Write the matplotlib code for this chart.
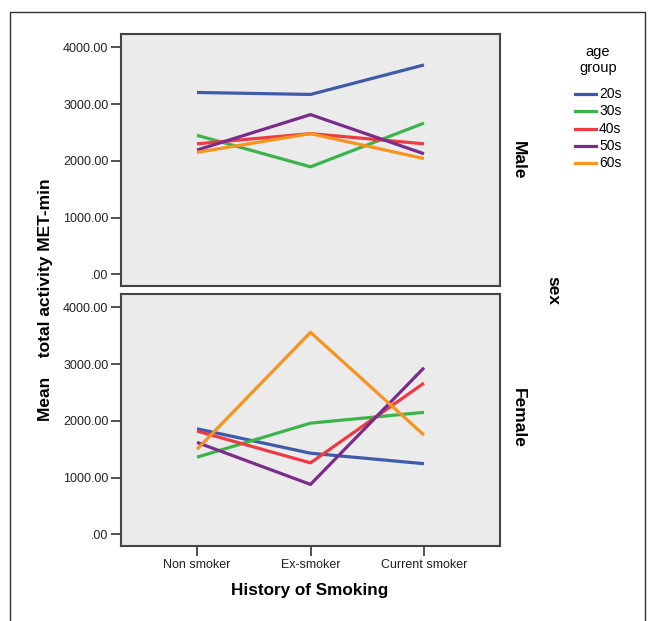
import numpy as np
import matplotlib
matplotlib.use("Agg")
import matplotlib.pyplot as plt
from matplotlib.patches import Rectangle
from matplotlib.lines import Line2D

# smoking categories and age groups
categories = ["Non smoker", "Ex-smoker", "Current smoker"]
age_groups = ["20s", "30s", "40s", "50s", "60s"]
colors = ["#3f5aa8", "#3cb44b", "#ee3a43", "#7a2c8a", "#f7931e"]

# mean total activity MET-min
male = {
    "20s": [3205, 3170, 3690],
    "30s": [2450, 1895, 2665],
    "40s": [2300, 2480, 2300],
    "50s": [2190, 2815, 2125],
    "60s": [2150, 2480, 2040],
}
female = {
    "20s": [1860, 1430, 1245],
    "30s": [1360, 1960, 2150],
    "40s": [1820, 1260, 2665],
    "50s": [1620, 880, 2935],
    "60s": [1500, 3560, 1750],
}

yticks = [0, 1000, 2000, 3000, 4000]
ytick_labels = [".00", "1000.00", "2000.00", "3000.00", "4000.00"]

narrow = ["Liberation Sans Narrow", "Liberation Sans", "DejaVu Sans"]
bold = ["Liberation Sans", "DejaVu Sans"]

W, H = 651, 621
fig = plt.figure(figsize=(W / 100, H / 100), dpi=100)
fig.patch.set_facecolor("white")

# outer frame
fig.patches.append(Rectangle((10 / W, -0.05), 635 / W, 1.05 - 12 / H,
                             transform=fig.transFigure, fill=False,
                             edgecolor="#333333", linewidth=1.0))


def panel(rect, data, show_x):
    ax = fig.add_axes(rect)
    ax.set_facecolor("#ebebeb")
    x = np.arange(len(categories))
    for g, c in zip(age_groups, colors):
        ax.plot(x, data[g], color=c, linewidth=2.3, solid_capstyle="butt")
    ax.set_xlim(-0.67, 2.67)
    ax.set_ylim(-205, 4235)
    ax.set_yticks(yticks)
    ax.set_yticklabels(ytick_labels, family=narrow, fontsize=9, color="#222222")
    ax.set_xticks(x)
    if show_x:
        ax.set_xticklabels(categories, family=narrow, fontsize=9, color="#222222")
    else:
        ax.tick_params(axis="x", bottom=False, labelbottom=False)
    ax.tick_params(axis="both", direction="out", length=7, width=1.2,
                   color="#333333", pad=2)
    for s in ax.spines.values():
        s.set_color("#444444")
        s.set_linewidth(1.5)
    return ax


ax_top = panel([121 / W, (H - 286) / H, 379 / W, 252 / H], male, False)
ax_bot = panel([121 / W, (H - 546) / H, 379 / W, 252 / H], female, True)

fig.text(310 / W, 1 - 591 / H, "History of Smoking", ha="center", va="center",
         fontsize=12.3, fontweight="bold", family=bold)
fig.text(46 / W, 1 - 300 / H, "Mean    total activity MET-min", ha="center",
         va="center", rotation=90, fontsize=12.5, fontweight="bold", family=bold)
fig.text(518 / W, 1 - 160 / H, "Male", ha="center", va="center", rotation=-90,
         fontsize=12.5, fontweight="bold", family=bold)
fig.text(518 / W, 1 - 418 / H, "Female", ha="center", va="center", rotation=-90,
         fontsize=12.5, fontweight="bold", family=bold)
fig.text(553 / W, 1 - 290 / H, "sex", ha="center", va="center", rotation=-90,
         fontsize=12.5, fontweight="bold", family=bold)

# legend
fig.text(598 / W, 1 - 60 / H, "age\ngroup", ha="center", va="center",
         fontsize=10.5, family=narrow, linespacing=1.2)
for i, (g, c) in enumerate(zip(age_groups, colors)):
    yy = 1 - (94 + i * 17.3) / H
    fig.add_artist(Line2D([575 / W, 596 / W], [yy, yy], color=c, linewidth=2.3,
                          transform=fig.transFigure))
    fig.text(599 / W, yy, g, ha="left", va="center", fontsize=10, family=narrow)

fig.savefig("out.png", dpi=100)
